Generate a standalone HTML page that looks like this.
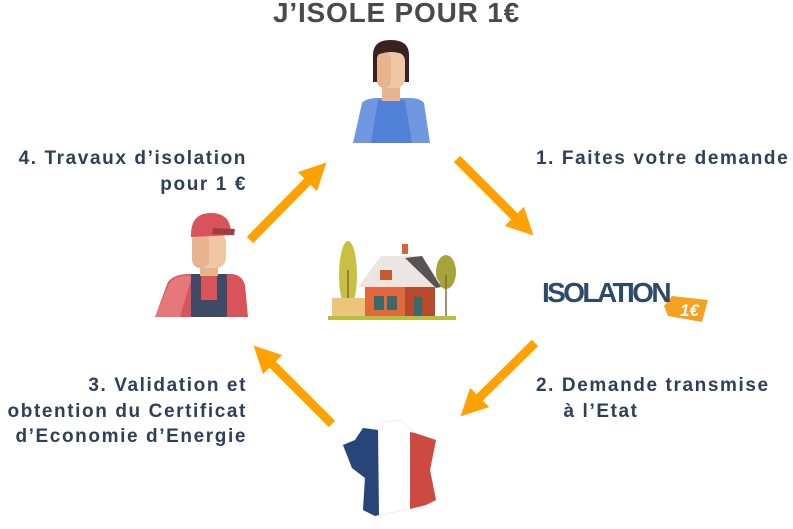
<!DOCTYPE html>
<html><head><meta charset="utf-8"><style>
body{margin:0;width:793px;height:529px;background:#fff;position:relative;overflow:hidden;font-family:"Liberation Sans",sans-serif}
.t{position:absolute;font-weight:bold;font-size:19px;letter-spacing:1.6px;color:#2e4058;line-height:25.5px;white-space:nowrap}
.r{text-align:right}
</style></head><body>
<div style="position:absolute;left:0;width:793px;top:-3px;text-align:center;font-weight:bold;font-size:28px;letter-spacing:0.8px;color:#4a4a4a">J’ISOLE POUR 1€</div>
<div class="t" style="left:536px;top:146px">1. Faites votre demande</div>
<div class="t" style="left:536px;top:373px">2. Demande transmise<br>&nbsp;&nbsp;&nbsp;&nbsp;à l’Etat</div>
<div class="t r" style="right:546px;top:146px">4. Travaux d’isolation<br>pour 1 €</div>
<div class="t r" style="right:546px;top:373px">3. Validation et<br>obtention du Certificat<br>d’Economie d’Energie</div>
<svg width="793" height="529" style="position:absolute;left:0;top:0">
<defs><marker id="a" markerWidth="3" markerHeight="3" refX="1.2" refY="1.5" orient="auto"><path d="M0,0L3,1.5L0,3z" fill="#ffa200"/></marker></defs>
<g stroke="#ffa200" stroke-width="9" marker-end="url(#a)">
<line x1="457" y1="159" x2="522" y2="224"/>
<line x1="535" y1="343" x2="472" y2="405"/>
<line x1="332" y1="424" x2="265" y2="357"/>
<line x1="250" y1="240" x2="315" y2="174"/>
</g>
<path d="M353,143 L362,103 Q366,98 378,98 L410,98 Q420,98 424,103 L430,143Z" fill="#6f98e0"/>
<path d="M371,143 L378,100 L405,100 L412,143Z" fill="#5181d6"/>
<rect x="382" y="85" width="18" height="16" fill="#e8b48f"/>
<path d="M373,55 Q373,40 391,40 Q409,40 409,55 L409,82 L373,82Z" fill="#3a2220"/>
<rect x="377" y="52" width="28" height="36" rx="9" fill="#f0c7a5"/>
<rect x="377" y="52" width="14" height="36" rx="7" fill="#e8b48f"/>
<path d="M375,48 Q391,40 407,48 L407,56 Q391,48 375,56Z" fill="#3a2220"/>
<path d="M155,317 L168,282 Q174,274 190,274 L232,274 Q242,275 245,285 L248,317Z" fill="#d9535a"/>
<path d="M155,317 L170,282 Q178,274 192,276 L180,317Z" fill="#e77879"/>
<rect x="191" y="274" width="10" height="43" fill="#3f4b66"/><rect x="217" y="274" width="10" height="43" fill="#3f4b66"/><rect x="191" y="300" width="36" height="17" fill="#3f4b66"/>
<rect x="200" y="262" width="18" height="14" fill="#e8b48f"/>
<rect x="192" y="232" width="34" height="36" rx="10" fill="#f0c7a5"/>
<rect x="192" y="232" width="17" height="36" rx="8" fill="#e8b48f"/>
<path d="M191,235 Q191,213 211,213 Q230,213 231,232 L235,235 L191,237Z" fill="#d9535a"/>
<path d="M213,228 L235,229 L234,235 L212,234Z" fill="#a03d44"/>
<rect x="328" y="316" width="128" height="4" fill="#b7bf3c"/>
<ellipse cx="348" cy="275" rx="9" ry="34" fill="#c8c042"/><line x1="348" y1="270" x2="348" y2="316" stroke="#8a6a3a" stroke-width="1.5"/>
<ellipse cx="446" cy="272" rx="10" ry="17" fill="#a5a33a"/><line x1="446" y1="275" x2="446" y2="316" stroke="#8a6a3a" stroke-width="1.5"/>
<rect x="332" y="298" width="38" height="18" fill="#ecc57a"/>
<rect x="365" y="283" width="70" height="33" fill="#e0683c"/>
<rect x="405" y="275" width="30" height="41" fill="#b84a2c"/>
<path d="M358,287 L381,256 L422,256 L440,283 L435,287Z" fill="#ece6e2"/>
<path d="M405,258 L422,256 L441,287 L436,288Z" fill="#5a5356"/>
<rect x="402" y="244" width="6" height="10" fill="#d9633a"/>
<rect x="380" y="270" width="12" height="10" fill="#c55a33"/>
<rect x="374" y="296" width="10" height="14" fill="#3c6a6a"/><rect x="387" y="296" width="10" height="14" fill="#3c6a6a"/><rect x="414" y="297" width="8" height="19" fill="#3c6a6a"/>
<path d="M343,445 L355,440 L363,428 L383,430 L382,422 L400,420 L415,433 L436,440 L430,470 L436,500 L426,505 L395,512 L375,516 L363,510 L365,478 L352,468 Z" fill="#fff" stroke="#eee"/>
<path d="M343,445 L355,440 L363,428 L378,430 L379,515 L375,516 L363,510 L365,478 L352,468 Z" fill="#284479"/>
<path d="M410,432 L415,433 L436,440 L430,470 L436,500 L426,505 L410,509 Z" fill="#cc4a3f"/>
<path d="M672,296 L708,300 L702,322 L668,316 L664,306Z" fill="#f4a21f"/>
<text x="680" y="316" font-family="Liberation Sans" font-style="italic" font-weight="bold" font-size="17" fill="#fff">1€</text>
<text x="542" y="302" font-family="Liberation Sans" font-weight="bold" font-size="28" fill="#2e4a68" letter-spacing="-2.6">ISOLATION</text>
</svg>
</body></html>
